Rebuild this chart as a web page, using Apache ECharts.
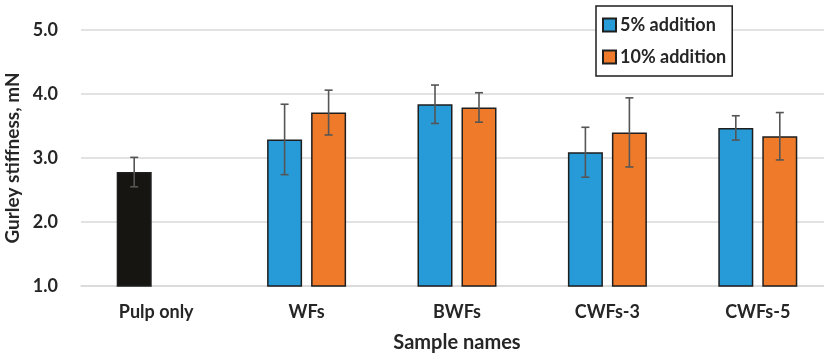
<!DOCTYPE html>
<html><head><meta charset="utf-8">
<script src="https://cdn.jsdelivr.net/npm/echarts@6/dist/echarts.min.js"></script>
<style>html,body{margin:0;padding:0;background:#fff}#c{width:824px;height:354px}</style>
</head><body><div id="c"></div>
<script>
const categories = ['Pulp only', 'WFs', 'BWFs', 'CWFs-3', 'CWFs-5'];
const values5 = [2.78, 3.29, 3.84, 3.09, 3.47];
const values10 = [null, 3.71, 3.79, 3.40, 3.34];
const err5 = [0.23, 0.55, 0.30, 0.39, 0.19];
const err10 = [null, 0.35, 0.23, 0.54, 0.37];
const yTicks = [1, 2, 3, 4, 5];
const seriesNames = ['5% addition', '10% addition'];

const FONT = 'Lato';
const BAR_W = 35, GAP = 9;
const OFFSET = (BAR_W + GAP) / 2;
const colBlue = '#279bd8', colOrange = '#ee7a2a', colBlack = '#171512', colBorder = '#1e1e1e';

function errSeries(vals, errs, dir) {
  const data = [];
  vals.forEach((v, i) => { if (v != null && errs[i] != null) data.push([i, v - errs[i], v + errs[i]]); });
  return {
    type: 'custom', silent: true, z: 10,
    data: data,
    renderItem: function (params, api) {
      const x = api.value(0);
      const lo = api.coord([x, api.value(1)]);
      const hi = api.coord([x, api.value(2)]);
      const cx = lo[0] + dir * OFFSET;
      const cap = 4;
      const st = { stroke: '#555555', lineWidth: 1.6 };
      return { type: 'group', children: [
        { type: 'line', shape: { x1: cx, y1: lo[1], x2: cx, y2: hi[1] }, style: st },
        { type: 'line', shape: { x1: cx - cap, y1: lo[1], x2: cx + cap, y2: lo[1] }, style: st },
        { type: 'line', shape: { x1: cx - cap, y1: hi[1], x2: cx + cap, y2: hi[1] }, style: st }
      ]};
    }
  };
}

const chart = echarts.init(document.getElementById('c'));
chart.setOption({
  animation: false,
  textStyle: { fontFamily: FONT },
  legend: {
    data: seriesNames,
    left: 596, top: 6,
    orient: 'vertical',
    itemWidth: 13, itemHeight: 13, itemGap: 14,
    padding: [10, 6, 10, 6],
    borderColor: '#1e1e1e', borderWidth: 1.5,
    backgroundColor: '#fff',
    textStyle: { fontFamily: FONT, fontWeight: 'bold', fontSize: 18, color: '#262626', padding: [0, 0, 0, -1] },
    icon: 'rect'
  },
  grid: { left: 81, right: -9, top: 30, bottom: 68, outerBoundsMode: 'none', containLabel: false },
  xAxis: {
    type: 'category', data: categories,
    axisTick: { show: false },
    axisLine: { lineStyle: { color: '#d9d9d9', width: 1.5 } },
    axisLabel: { color: '#262626', fontWeight: 'bold', fontSize: 18, margin: 17, fontFamily: FONT },
    name: 'Sample names', nameLocation: 'middle', nameGap: 47,
    nameTextStyle: { color: '#262626', fontWeight: 'bold', fontSize: 20, fontFamily: FONT }
  },
  yAxis: {
    type: 'value', min: yTicks[0], max: yTicks[yTicks.length - 1], interval: 1,
    splitLine: { lineStyle: { color: '#d9d9d9', width: 1.5 } },
    axisLine: { show: false }, axisTick: { show: false },
    axisLabel: { color: '#262626', fontWeight: 'bold', fontSize: 18, margin: 23, fontFamily: FONT,
      formatter: v => v.toFixed(1) },
    name: 'Gurley stiffness, mN', nameLocation: 'middle', nameGap: 52,
    nameTextStyle: { color: '#262626', fontWeight: 'bold', fontSize: 19, fontFamily: FONT }
  },
  series: [
    { name: seriesNames[0], type: 'bar', barWidth: BAR_W, barGap: (GAP / BAR_W * 100) + '%',
      itemStyle: { color: colBlue, borderColor: colBorder, borderWidth: 1.5 },
      data: values5.map((v, i) => i === 0 ? { value: v, itemStyle: { color: colBlack } } : v) },
    { name: seriesNames[1], type: 'bar', barWidth: BAR_W,
      itemStyle: { color: colOrange, borderColor: colBorder, borderWidth: 1.5 },
      data: values10.map(v => v == null ? '-' : v) },
    errSeries(values5, err5, -1),
    errSeries(values10, err10, 1)
  ]
});
</script></body></html>
